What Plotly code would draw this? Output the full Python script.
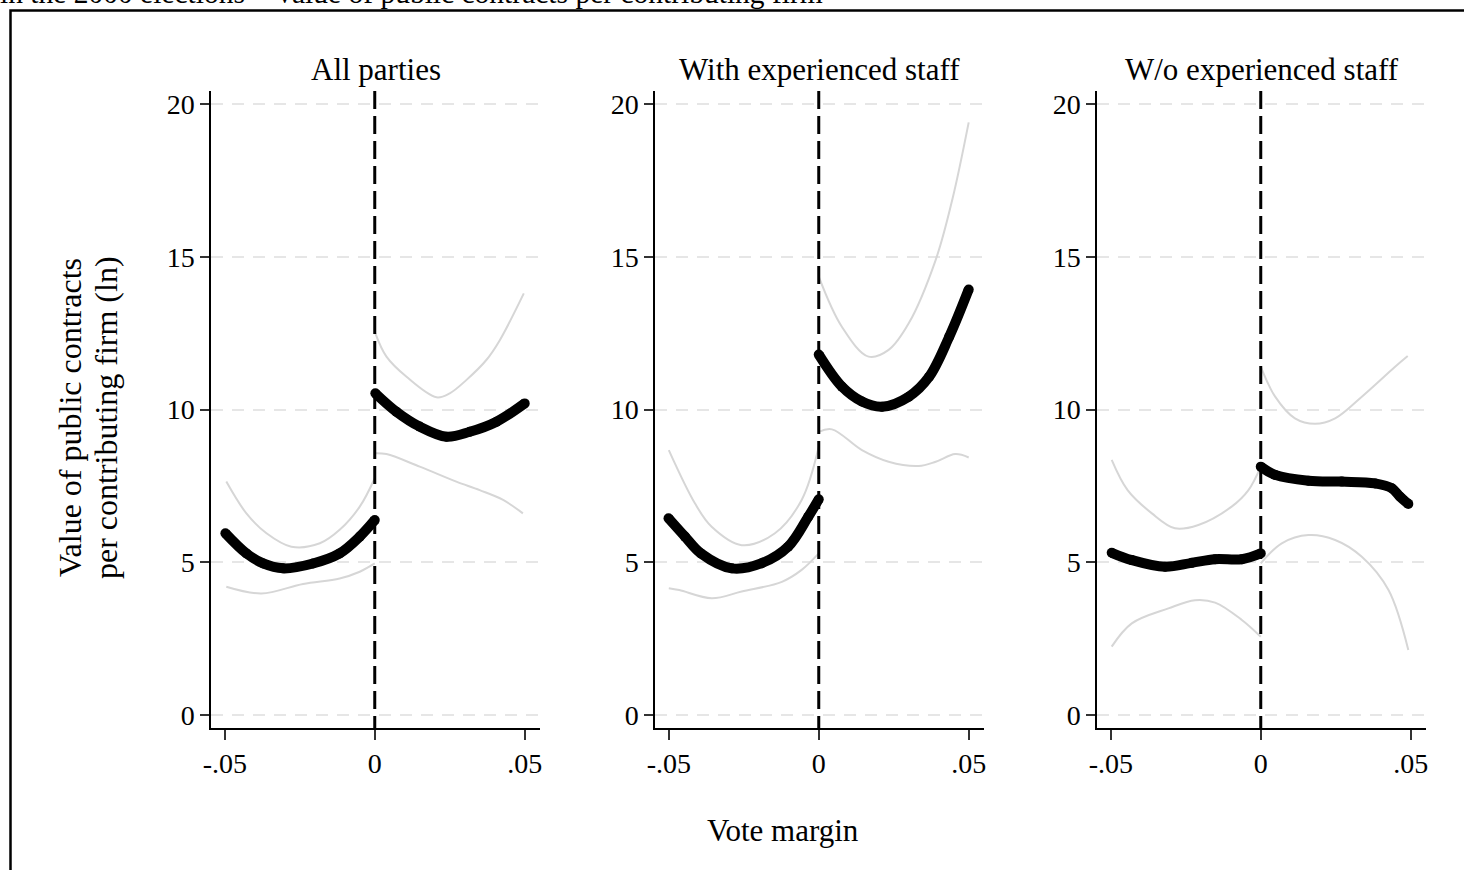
import plotly.graph_objects as go

W, H = 1464, 870
FONT = "Liberation Serif, Times New Roman, serif"

panel_titles = ["All parties", "With experienced staff", "W/o experienced staff"]
x_tick_vals = [-0.05, 0, 0.05]
x_tick_text = ["-.05", "0", ".05"]
y_tick_vals = [0, 5, 10, 15, 20]

# ---- Panel 1: All parties ----
p1_fit_left_x = [-0.0498, -0.0428, -0.0372, -0.0306, -0.0206, -0.0117, -0.005, 0.0]
p1_fit_left_y = [5.95, 5.29, 4.96, 4.80, 4.96, 5.29, 5.84, 6.38]
p1_fit_right_x = [0.0002, 0.0072, 0.015, 0.0239, 0.0317, 0.0406, 0.05]
p1_fit_right_y = [10.53, 9.93, 9.44, 9.11, 9.27, 9.60, 10.20]
p1_hi_left_x = [-0.0495, -0.0428, -0.0361, -0.0278, -0.0183, -0.0117, -0.005, 0.0]
p1_hi_left_y = [7.64, 6.60, 5.95, 5.51, 5.62, 6.06, 6.82, 7.75]
p1_lo_left_x = [-0.0495, -0.0378, -0.0239, -0.0117, -0.005, 0.0]
p1_lo_left_y = [4.20, 3.98, 4.29, 4.47, 4.69, 4.96]
p1_hi_right_x = [0.0002, 0.0039, 0.0106, 0.0206, 0.025, 0.0306, 0.0372, 0.0417, 0.0497]
p1_hi_right_y = [12.49, 11.73, 11.07, 10.40, 10.53, 10.97, 11.62, 12.27, 13.80]
p1_lo_right_x = [0.0002, 0.0039, 0.015, 0.0272, 0.035, 0.0428, 0.0494]
p1_lo_right_y = [8.57, 8.54, 8.13, 7.64, 7.36, 7.04, 6.60]

# ---- Panel 2: With experienced staff ----
p2_fit_left_x = [-0.0501, -0.0446, -0.0393, -0.029, -0.019, -0.0102, -0.0035, 0.0]
p2_fit_left_y = [6.44, 5.84, 5.29, 4.80, 4.97, 5.51, 6.49, 7.06]
p2_fit_right_x = [0.0, 0.0077, 0.0144, 0.0211, 0.03, 0.0368, 0.0435, 0.05]
p2_fit_right_y = [11.80, 10.75, 10.26, 10.09, 10.42, 11.07, 12.38, 13.93]
p2_hi_left_x = [-0.05, -0.0413, -0.0357, -0.0257, -0.0146, -0.0057, 0.0]
p2_hi_left_y = [8.67, 6.93, 6.16, 5.56, 5.95, 7.04, 8.78]
p2_lo_left_x = [-0.05, -0.0465, -0.0357, -0.0257, -0.0123, -0.0057, 0.0]
p2_lo_left_y = [4.15, 4.09, 3.82, 4.04, 4.36, 4.75, 5.29]
p2_hi_right_x = [0.0, 0.0077, 0.0166, 0.0233, 0.03, 0.039, 0.0446, 0.05]
p2_hi_right_y = [14.35, 12.71, 11.73, 11.95, 12.82, 14.90, 16.90, 19.40]
p2_lo_right_x = [0.0, 0.0044, 0.0144, 0.0233, 0.0333, 0.039, 0.0455, 0.05]
p2_lo_right_y = [9.27, 9.35, 8.67, 8.29, 8.15, 8.29, 8.54, 8.43]

# ---- Panel 3: W/o experienced staff ----
p3_fit_left_x = [-0.0497, -0.043, -0.0319, -0.023, -0.0152, -0.0063, 0.0]
p3_fit_left_y = [5.31, 5.07, 4.85, 4.98, 5.10, 5.10, 5.29]
p3_fit_right_x = [0.0, 0.0048, 0.0159, 0.027, 0.0381, 0.0437, 0.0464, 0.0492]
p3_fit_right_y = [8.13, 7.86, 7.67, 7.64, 7.58, 7.42, 7.15, 6.91]
p3_hi_left_x = [-0.0497, -0.0444, -0.0363, -0.0286, -0.0208, -0.0097, -0.0041, 0.0]
p3_hi_left_y = [8.35, 7.36, 6.60, 6.11, 6.22, 6.82, 7.36, 8.13]
p3_lo_left_x = [-0.0497, -0.043, -0.0308, -0.0219, -0.0152, -0.0063, 0.0]
p3_lo_left_y = [2.24, 3.00, 3.49, 3.76, 3.68, 3.11, 2.56]
p3_hi_right_x = [0.0, 0.0048, 0.0114, 0.0181, 0.0248, 0.0337, 0.0448, 0.049]
p3_hi_right_y = [11.40, 10.42, 9.71, 9.53, 9.71, 10.42, 11.40, 11.75]
p3_lo_right_x = [0.0, 0.007, 0.0159, 0.0248, 0.0337, 0.0426, 0.0492]
p3_lo_right_y = [4.96, 5.62, 5.89, 5.73, 5.18, 4.09, 2.13]

panels = [
    dict(fits=[(p1_fit_left_x, p1_fit_left_y), (p1_fit_right_x, p1_fit_right_y)],
         cis=[(p1_hi_left_x, p1_hi_left_y), (p1_lo_left_x, p1_lo_left_y),
              (p1_hi_right_x, p1_hi_right_y), (p1_lo_right_x, p1_lo_right_y)]),
    dict(fits=[(p2_fit_left_x, p2_fit_left_y), (p2_fit_right_x, p2_fit_right_y)],
         cis=[(p2_hi_left_x, p2_hi_left_y), (p2_lo_left_x, p2_lo_left_y),
              (p2_hi_right_x, p2_hi_right_y), (p2_lo_right_x, p2_lo_right_y)]),
    dict(fits=[(p3_fit_left_x, p3_fit_left_y), (p3_fit_right_x, p3_fit_right_y)],
         cis=[(p3_hi_left_x, p3_hi_left_y), (p3_lo_left_x, p3_lo_left_y),
              (p3_hi_right_x, p3_hi_right_y), (p3_lo_right_x, p3_lo_right_y)]),
]

# pixel layout
x_left_px = [211, 655, 1097]
plot_w_px = 329
y_top_px, y_bot_px = 91, 728
x_range = [-0.0546, 0.0551]
y_range = [-0.4255, 20.4255]

fig = go.Figure()
layout = dict(
    width=W, height=H,
    margin=dict(l=0, r=0, t=0, b=0, autoexpand=False),
    paper_bgcolor="white", plot_bgcolor="white",
    showlegend=False,
    font=dict(family=FONT, color="black", size=28),
)

shapes = []
annotations = []
for i, p in enumerate(panels):
    n = "" if i == 0 else str(i + 1)
    xa, ya = "x" + n, "y" + n
    for cx, cy in p["cis"]:
        fig.add_trace(go.Scatter(x=cx, y=cy, mode="lines", xaxis=xa, yaxis=ya,
                                 line=dict(color="#d6d6d6", width=2, shape="spline", smoothing=1.0),
                                 hoverinfo="skip"))
    for fx, fy in p["fits"]:
        fig.add_trace(go.Scatter(x=fx, y=fy, mode="lines+markers", xaxis=xa, yaxis=ya,
                                 line=dict(color="black", width=10, shape="spline", smoothing=1.0),
                                 marker=dict(color="black", size=10)))
    x0 = x_left_px[i] / W
    x1 = (x_left_px[i] + plot_w_px) / W
    layout["xaxis" + n] = dict(
        domain=[x0, x1], range=x_range, anchor=ya,
        tickmode="array", tickvals=x_tick_vals, ticktext=x_tick_text,
        ticks="outside", ticklen=10, tickwidth=1.5, tickcolor="#333333",
        showline=True, linecolor="black", linewidth=1.5,
        showgrid=False, zeroline=False,
        tickfont=dict(family=FONT, size=28, color="black"),
    )
    layout["yaxis" + n] = dict(
        domain=[1 - y_bot_px / H, 1 - y_top_px / H], range=y_range, anchor=xa,
        tickmode="array", tickvals=y_tick_vals,
        ticks="outside", ticklen=9, tickwidth=1.5, tickcolor="#333333",
        showline=True, linecolor="black", linewidth=1.5,
        showgrid=True, gridcolor="#e6e6e6", gridwidth=1.5, griddash="12px,9px",
        zeroline=False,
        tickfont=dict(family=FONT, size=28, color="black"),
    )
    shapes.append(dict(type="line", xref=xa, yref=ya + " domain", x0=0, x1=0, y0=1, y1=0,
                       line=dict(color="black", width=3, dash="18px,7px"), layer="above"))
    annotations.append(dict(text=panel_titles[i], xref="paper", yref="paper",
                            x=(x_left_px[i] + plot_w_px / 2) / W, y=1 - 69 / H,
                            xanchor="center", yanchor="middle", showarrow=False,
                            font=dict(family=FONT, size=31, color="black")))

# outer frame (partly cut)
shapes.append(dict(type="rect", xref="paper", yref="paper",
                   x0=10.5 / W, x1=1.02, y0=-0.02, y1=1 - 10.5 / H,
                   line=dict(color="black", width=2.5), fillcolor="rgba(0,0,0,0)", layer="below"))

annotations += [
    dict(text="Vote margin", xref="paper", yref="paper", x=783 / W, y=1 - 830 / H,
         xanchor="center", yanchor="middle", showarrow=False,
         font=dict(family=FONT, size=31, color="black")),
    dict(text="Value of public contracts", xref="paper", yref="paper", x=70 / W, y=1 - 418 / H,
         xanchor="center", yanchor="middle", textangle=-90, showarrow=False,
         font=dict(family=FONT, size=32, color="black")),
    dict(text="per contributing firm (ln)", xref="paper", yref="paper", x=106 / W, y=1 - 418 / H,
         xanchor="center", yanchor="middle", textangle=-90, showarrow=False,
         font=dict(family=FONT, size=32, color="black")),
    dict(text="in the 2000 elections – Value of public contracts per contributing firm",
         xref="paper", yref="paper", x=-2 / W, y=1 + 7.5 / H,
         xanchor="left", yanchor="middle", showarrow=False,
         font=dict(family=FONT, size=29.5, color="black")),
]

layout["shapes"] = shapes
layout["annotations"] = annotations
fig.update_layout(**layout)
fig.write_html("out.html")
